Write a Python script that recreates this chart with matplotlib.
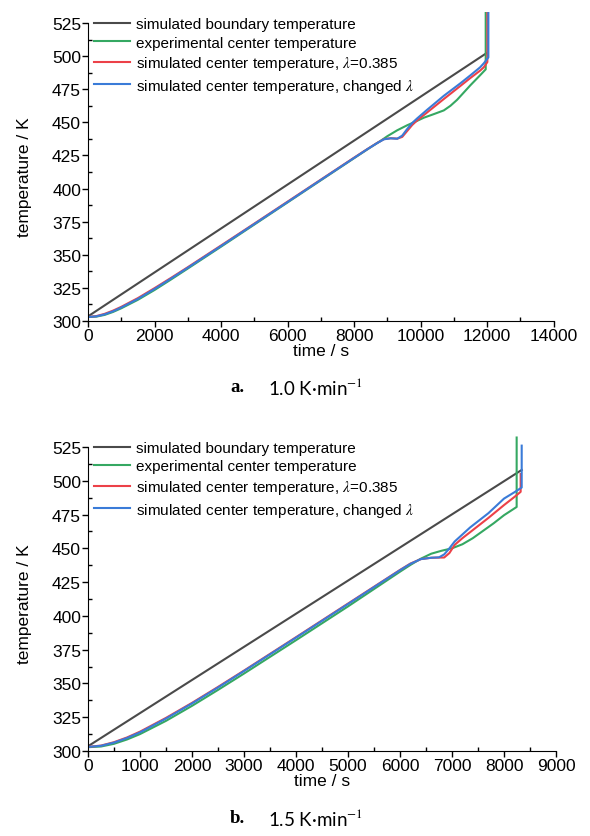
import numpy as np
import matplotlib
matplotlib.use('Agg')
import matplotlib.pyplot as plt
from matplotlib.ticker import MultipleLocator

plt.rcParams['font.family'] = ['Liberation Sans', 'DejaVu Sans']
plt.rcParams['mathtext.fontset'] = 'stix'

# ---------- a. 1.0 K/min ----------
ta_bound = [0, 12000]
Ta_bound = [303.5, 502.5]

ta_exp = [0, 250, 500, 750, 1000, 1500, 2000, 2500, 3000, 4000, 5000, 6000, 7000, 8000,
          8500, 8800, 9000, 9300, 9600, 9800, 10100, 10400, 10700, 10900, 11100, 11300,
          11500, 11790, 11960, 11960]
Ta_exp = [303.0, 303.3, 304.6, 306.8, 309.6, 316.0, 323.4, 331.4, 339.6, 356.1, 372.8, 389.5,
          406.2, 422.9, 431.2, 436.0, 439.5, 444.0, 447.8, 450.0, 453.5, 456.2, 459.0, 462.5,
          467.0, 472.5, 478.0, 485.5, 490.0, 533.0]

ta_red = [0, 250, 500, 750, 1000, 1500, 2000, 2500, 3000, 4000, 5000, 6000, 7000, 8000,
          8400, 8700, 8900, 9100, 9300, 9450, 9600, 9750, 9900, 10200, 10700, 11200, 11500,
          11790, 11900, 12010, 12010]
Ta_red = [303.0, 303.7, 305.4, 307.8, 310.7, 317.3, 324.8, 332.6, 340.6, 357.0, 373.5, 390.1,
          406.7, 423.3, 429.8, 434.5, 437.3, 438.0, 437.7, 439.0, 443.5, 448.0, 451.5, 457.5,
          467.6, 477.5, 483.5, 489.0, 491.5, 495.5, 533.0]

ta_blue = [0, 250, 500, 750, 1000, 1500, 2000, 2500, 3000, 4000, 5000, 6000, 7000, 8000,
           8400, 8700, 8900, 9100, 9300, 9450, 9600, 9750, 9900, 10200, 10700, 11200, 11500,
           11790, 11900, 12040, 12040]
Ta_blue = [303.0, 303.5, 305.0, 307.3, 310.2, 316.7, 324.2, 332.1, 340.2, 356.6, 373.2, 389.8,
           406.5, 423.1, 429.7, 434.4, 437.2, 437.9, 437.6, 440.0, 445.0, 449.5, 453.0, 459.5,
           470.0, 479.5, 485.5, 491.5, 494.5, 499.0, 533.0]

# ---------- b. 1.5 K/min ----------
tb_bound = [0, 8340]
Tb_bound = [303.5, 508.0]

tb_exp = [0, 250, 500, 750, 1000, 1500, 2000, 2500, 3000, 4000, 5000, 6000, 6200, 6400,
          6600, 6800, 7000, 7200, 7400, 7600, 7800, 8000, 8243, 8243]
Tb_exp = [302.8, 303.3, 305.3, 308.5, 312.5, 322.3, 333.4, 345.2, 357.3, 382.0, 407.0, 432.7,
          437.7, 442.3, 446.0, 448.2, 450.0, 453.0, 457.5, 463.0, 468.5, 474.5, 480.6, 532.0]

tb_red = [0, 250, 500, 750, 1000, 1500, 2000, 2500, 3000, 4000, 5000, 6000, 6200, 6400,
          6600, 6850, 6950, 7050, 7200, 7350, 7700, 8000, 8200, 8320, 8320]
Tb_red = [303.0, 304.0, 306.5, 310.0, 314.3, 324.5, 335.6, 347.4, 359.5, 384.2, 409.1, 434.0,
          438.7, 442.0, 443.0, 443.2, 446.5, 452.5, 457.5, 462.0, 472.5, 482.0, 488.0, 491.8, 505.0]

tb_blue = [0, 250, 500, 750, 1000, 1500, 2000, 2500, 3000, 4000, 5000, 6000, 6200, 6400,
           6600, 6750, 6850, 6950, 7050, 7350, 7700, 8000, 8200, 8340, 8340]
Tb_blue = [303.0, 303.8, 306.2, 309.6, 313.8, 324.0, 335.2, 347.0, 359.2, 383.9, 408.8, 433.8,
           438.5, 442.0, 443.0, 443.3, 445.5, 450.0, 455.0, 465.5, 476.0, 486.8, 491.5, 495.0, 526.0]

labels = ['simulated boundary temperature',
          'experimental center temperature',
          r'simulated center temperature, $\lambda$=0.385',
          r'simulated center temperature, changed $\lambda$']
colors = ['#4a4a4a', '#35a862', '#ec4148', '#3a7bd8']

fig = plt.figure(figsize=(5.9, 8.37), dpi=100)
ax_a = fig.add_axes([0.1492, 0.6153, 0.789, 0.3687])
ax_b = fig.add_axes([0.1492, 0.1016, 0.7932, 0.3761])

panels = [
    (ax_a, [(ta_bound, Ta_bound), (ta_exp, Ta_exp), (ta_red, Ta_red), (ta_blue, Ta_blue)],
     14000, 2000, 1000),
    (ax_b, [(tb_bound, Tb_bound), (tb_exp, Tb_exp), (tb_red, Tb_red), (tb_blue, Tb_blue)],
     9000, 1000, 500),
]

for ax, series, xmax, xmaj, xmin in panels:
    # 画顺序: boundary, exp, red, blue
    for (t, T), c, lab in zip(series, colors, labels):
        ax.plot(t, T, color=c, lw=1.5, label=lab)
    ax.set_xlim(0, xmax)
    ax.set_ylim(300, 533)
    ax.spines['top'].set_visible(False)
    ax.spines['right'].set_visible(False)
    ax.spines['left'].set_bounds(300, 525)
    ax.set_yticks(np.arange(300, 526, 25))
    ax.yaxis.set_minor_locator(MultipleLocator(12.5))
    ax.xaxis.set_major_locator(MultipleLocator(xmaj))
    ax.xaxis.set_minor_locator(MultipleLocator(xmin))
    ax.tick_params(which='major', direction='out', length=4, width=1, labelsize=12.5, pad=1)
    ax.tick_params(which='minor', direction='in', length=3, width=1)
    ax.set_xlabel('time / s', fontsize=12.5, labelpad=0)
    ax.set_ylabel('temperature / K', fontsize=12.5)
    ax.yaxis.set_label_coords(-0.12, 0.47)
    ax.legend(loc='upper left', bbox_to_anchor=(0.012, 0.985), frameon=False, fontsize=11,
              handlelength=2.4, handletextpad=0.4, labelspacing=0.3, borderpad=0,
              borderaxespad=0)

# 图注
fig.text(0.415, 0.5375, 'a.', fontsize=13.5, fontweight='bold', family='Liberation Serif',
         ha='right', va='center')
fig.text(0.455, 0.5375, '1.0 K\u00b7min$^{-1}$', fontsize=13.5, family='Lato', va='center')
fig.text(0.415, 0.0227, 'b.', fontsize=13.5, fontweight='bold', family='Liberation Serif',
         ha='right', va='center')
fig.text(0.455, 0.0227, '1.5 K\u00b7min$^{-1}$', fontsize=13.5, family='Lato', va='center')

fig.savefig('out.png', dpi=100)
